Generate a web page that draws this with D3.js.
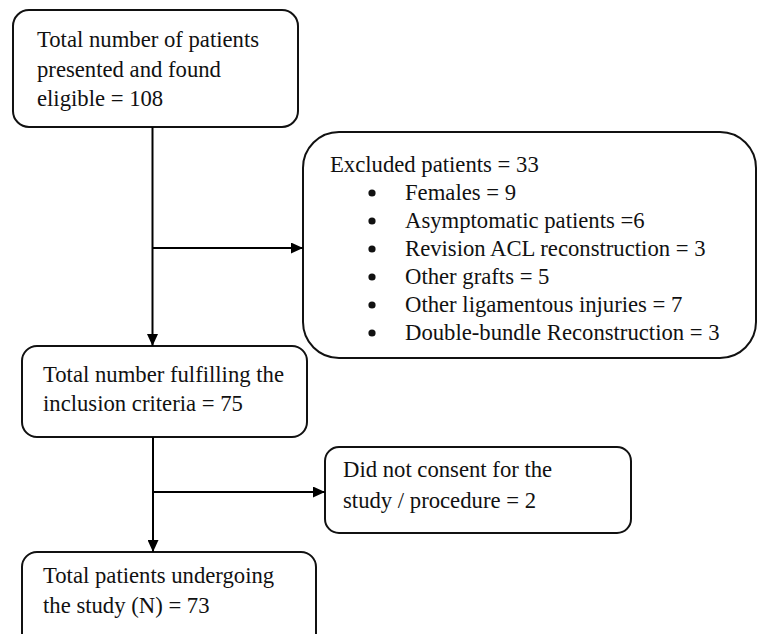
<!DOCTYPE html>
<html><head><meta charset="utf-8">
<script src="https://cdn.jsdelivr.net/npm/d3@7"></script>
<style>html,body{margin:0;padding:0;background:#fff;}svg{display:block;}</style>
</head><body>
<script>
// Text content
const eligibleLines = ["Total number of patients", "presented and found", "eligible = 108"];
const excludedTitle = "Excluded patients = 33";
const excludedReasons = ["Females = 9", "Asymptomatic patients =6", "Revision ACL reconstruction = 3", "Other grafts = 5", "Other ligamentous injuries = 7", "Double-bundle Reconstruction = 3"];
const includedLines = ["Total number fulfilling the", "inclusion criteria = 75"];
const noConsentLines = ["Did not consent for the", "study / procedure = 2"];
const finalLines = ["Total patients undergoing", "the study (N) = 73"];

const W = 758, H = 634;
const svg = d3.select("body").append("svg").attr("width", W).attr("height", H);
const defs = svg.append("defs");
defs.append("marker").attr("id","arr").attr("viewBox","0 0 12 11").attr("refX",12).attr("refY",5.5)
  .attr("markerWidth",12).attr("markerHeight",11).attr("markerUnits","userSpaceOnUse").attr("orient","auto")
  .append("path").attr("d","M0,0L12,5.5L0,11Z").attr("fill","#000");

const font = "'Liberation Serif','Times New Roman',serif";
const fs = 22.7;

// Layout
const boxes = [
  {x:13, y:10, w:285, h:117, r:16, lines:eligibleLines, tx:37, ty:47, lh:29.5},
  {x:303, y:132, w:453, h:226, r:36},
  {x:22, y:346, w:285, h:91, r:15, lines:includedLines, tx:43, ty:382, lh:29},
  {x:325, y:447, w:306, h:86, r:14, lines:noConsentLines, tx:343, ty:477, lh:31},
  {x:22, y:552, w:294, h:100, r:15, lines:finalLines, tx:43, ty:583, lh:29.5}
];

const g = svg.append("g");
g.selectAll("rect.box").data(boxes).join("rect").attr("class","box")
  .attr("x",d=>d.x).attr("y",d=>d.y).attr("width",d=>d.w).attr("height",d=>d.h)
  .attr("rx",d=>d.r).attr("ry",d=>d.r).attr("fill","#fff").attr("stroke","#111").attr("stroke-width",2);

boxes.filter(b=>b.lines).forEach(b=>{
  g.append("g").selectAll("text").data(b.lines).join("text")
    .attr("x",b.tx).attr("y",(d,i)=>b.ty+i*b.lh)
    .attr("font-family",font).attr("font-size",fs).attr("fill","#111").text(d=>d);
});

// Excluded box content
g.append("text").attr("x",330).attr("y",172).attr("font-family",font).attr("font-size",fs).attr("fill","#111").text(excludedTitle);
const rg = g.append("g").selectAll("g").data(excludedReasons).join("g")
  .attr("transform",(d,i)=>`translate(0,${200+i*28})`);
rg.append("circle").attr("cx",372).attr("cy",-7).attr("r",3.6).attr("fill","#111");
rg.append("text").attr("x",405).attr("y",0).attr("font-family",font).attr("font-size",fs).attr("fill","#111").text(d=>d);

// Connectors
const line = d3.line();
const conns = [
  {pts:[[152.5,127],[152.5,346]], arrow:true},
  {pts:[[152.5,248],[303,248]], arrow:true},
  {pts:[[153,437],[153,552]], arrow:true},
  {pts:[[153,492],[325,492]], arrow:true}
];
g.selectAll("path.conn").data(conns).join("path").attr("class","conn")
  .attr("d",d=>line(d.pts)).attr("fill","none").attr("stroke","#000").attr("stroke-width",2)
  .attr("marker-end",d=>d.arrow?"url(#arr)":null);
</script>
</body></html>
